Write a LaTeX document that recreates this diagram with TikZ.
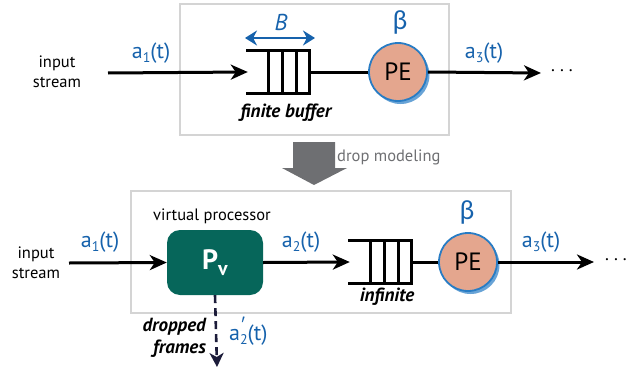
\documentclass[tikz,border=0pt]{standalone}
\usepackage{fontspec}
\setmainfont{PT Sans}
\newfontfamily\grk{Lato}
\usetikzlibrary{arrows.meta}
\definecolor{bluet}{RGB}{22,98,172}
\definecolor{circb}{RGB}{40,124,196}
\definecolor{pefill}{RGB}{228,166,142}
\definecolor{teal}{RGB}{6,102,90}
\definecolor{grayarr}{RGB}{110,111,114}
\definecolor{boxgray}{RGB}{212,212,212}
\definecolor{navy}{RGB}{28,28,58}
\newcommand{\sbx}[1]{\raisebox{-0.38ex}{\fontsize{14}{14}\selectfont #1}}
\begin{document}
\begin{tikzpicture}[x=1pt,y=-1pt,
  frame/.style={draw=boxgray,line width=1.3pt,minimum width=#1},
  lbl/.style={text=bluet,font=\fontsize{22}{24}\selectfont,inner sep=0pt},
  txt/.style={font=\fontsize{16.5}{19.5}\selectfont,align=center,inner sep=0pt},
  bitxt/.style={font=\fontsize{19}{22}\selectfont\bfseries\itshape,align=right,inner sep=0pt},
  arr/.style={line width=3pt,-{Stealth[length=17pt,width=15pt,inset=5pt]}},
  ln/.style={line width=3pt},
  pe/.style={circle,draw=circb,line width=1.8pt,fill=pefill,minimum size=58pt,inner sep=0pt,font=\fontsize{25}{25}\selectfont},
  peshadow/.style={circle,fill=circb,opacity=0.7,minimum size=58pt,inner sep=0pt},
  queue/.style={minimum width=61pt,minimum height=42pt,inner sep=0pt},
  qline/.style={line width=3pt,line cap=rect},
  dots/.style={font=\fontsize{18}{18}\selectfont,inner sep=0pt}
]
\useasboundingbox (0,0) rectangle (644,369);
% frames
\node[frame=269pt,minimum height=131pt] (topbox) at (314.5,69.5) {};
\node[frame=380pt,minimum height=122pt] (botbox) at (321,252) {};

% ---------- top row ----------
\node[txt] (in1) at (57,72) {input\\stream};
\coordinate (s1) at (108,73);
\node[queue] (q1) at (278.5,72) {};
\draw[qline] (q1.north west) -- (q1.north east) -- (q1.south east) -- (q1.south west);
\foreach \xx in {268,282,296}{\draw[qline] (\xx,51) -- (\xx,93);}
\draw[arr] (s1) -- (q1.west);
\node[peshadow] (pe1s) at (400.5,75) {};
\node[pe] (pe1) at (398,72) {PE};
\draw[ln] (q1.east) -- (pe1.west);
\coordinate (e1) at (541,73);
\draw[arr] (pe1.east) -- (e1);
\node[dots] (d1) at (562,71) {.\hspace{5pt}.\hspace{5pt}.};
\node[lbl] (a1t) at (151,53) {a\sbx{1}(t)};
\node[lbl] (a3t) at (484,53) {a\sbx{3}(t)};
\node[lbl,font=\fontsize{23}{23}\selectfont\itshape] (B) at (281,22) {B};
\coordinate (bl) at (245,38);
\coordinate (br) at (315,38);
\draw[draw=bluet,line width=2.8pt,{Stealth[length=12pt,width=15pt]}-{Stealth[length=12pt,width=15pt]}] (bl) -- (br);
\node[lbl,font=\fontsize{26}{26}\selectfont\grk] (beta1) at (400,22) {β};
\node[bitxt] (fb) at (286,113) {finite buffer};

% ---------- drop modeling arrow ----------
\fill[grayarr] (293,142) -- (335,142) -- (335,168) -- (347,168) -- (314,185) -- (282,168) -- (293,168) -- cycle;
\node[txt,text=grayarr,anchor=west] (dm) at (337,157) {drop modeling};

% ---------- bottom row ----------
\node[txt] (in2) at (36,263) {input\\stream};
\coordinate (s2) at (69,263);
\node[txt] (vp) at (212,216) {virtual processor};
\node[rounded corners=13pt,fill=teal,minimum width=96pt,minimum height=65pt,inner sep=0pt,text=white,font=\fontsize{28}{28}\selectfont\bfseries] (pv) at (215,262.5) {P\raisebox{-0.45ex}{\fontsize{20}{20}\selectfont v}};
\draw[arr] (s2) -- (pv.west);
\node[queue] (q2) at (380.5,262) {};
\draw[qline] (q2.north west) -- (q2.north east) -- (q2.south east) -- (q2.south west);
\foreach \xx in {370,384,398}{\draw[qline] (\xx,241) -- (\xx,283);}
\draw[arr] (pv.east) -- (q2.west);
\node[peshadow] (pe2s) at (470.5,265) {};
\node[pe] (pe2) at (468,262) {PE};
\draw[ln] (q2.east) -- (pe2.west);
\coordinate (e2) at (594,262);
\draw[arr] (pe2.east) -- (e2);
\node[dots] (d2) at (616,260) {.\hspace{5pt}.\hspace{5pt}.};
\node[lbl] (a1b) at (100,242) {a\sbx{1}(t)};
\node[lbl] (a2b) at (301,242) {a\sbx{2}(t)};
\node[lbl] (a3b) at (541,242) {a\sbx{3}(t)};
\node[lbl,font=\fontsize{26}{26}\selectfont\grk] (beta2) at (467,212) {β};
\node[bitxt] (inf) at (387,297) {infinite};
\coordinate (dd) at (217,367);
\draw[navy,line width=2.6pt,dash pattern=on 8pt off 5pt,-{Stealth[length=14pt,width=14pt,inset=4pt]}] (pv.south) -- (dd);
\node[bitxt,anchor=east] (dropf) at (206,338) {dropped\\frames};
\node[lbl,anchor=west] (a2p) at (229,331) {a\raisebox{-0.38ex}{\fontsize{14}{11}\selectfont\shortstack[l]{{\grk\fontsize{18}{10}\selectfont ′}\\2}}(t)};
\end{tikzpicture}
\end{document}
